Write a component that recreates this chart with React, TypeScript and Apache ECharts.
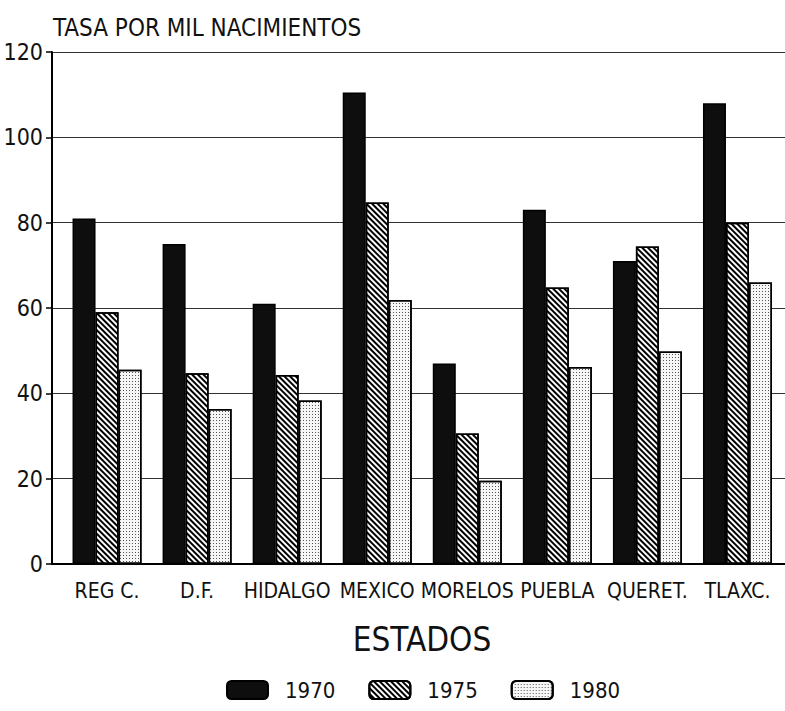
import React, { useEffect, useRef } from "react";
import * as echarts from "echarts";

const categories = ["REG C.", "D.F.", "HIDALGO", "MEXICO", "MORELOS", "PUEBLA", "QUERET.", "TLAXC."];
const years = ["1970", "1975", "1980"];
const values1970 = [81, 75, 61, 110.5, 47, 83, 71, 108];
const values1975 = [59, 44.7, 44.3, 84.7, 30.6, 64.8, 74.4, 80];
const values1980 = [45.5, 36.3, 38.3, 61.9, 19.5, 46.2, 49.8, 66];
const yTicks = [0, 20, 40, 60, 80, 100, 120];

const FONT = "'Liberation Sans Narrow', 'DejaVu Sans Condensed', 'Liberation Sans', sans-serif";

export default function App() {
  const ref = useRef<HTMLDivElement>(null);
  useEffect(() => {
    if (!ref.current) return;
    const chart = echarts.init(ref.current, null, { renderer: "svg" });
    const border = { borderColor: "#000", borderWidth: 1.5 };
    chart.setOption({
      animation: false,
      backgroundColor: "#fff",
      textStyle: { fontFamily: FONT, color: "#111" },
      title: {
        text: "TASA POR MIL NACIMIENTOS",
        left: 48,
        top: 11,
        textStyle: { fontFamily: FONT, fontSize: 24, fontWeight: "normal", color: "#111" },
      },
      legend: {
        bottom: 5,
        left: 221,
        itemWidth: 41,
        itemHeight: 18,
        itemGap: 33,
        data: years,
        textStyle: { fontFamily: FONT, fontSize: 22, color: "#111", padding: [0, 0, 0, 12] },
      },
      graphic: [
        {
          type: "text",
          x: 422,
          y: 639,
          style: {
            text: "ESTADOS",
            fontFamily: FONT,
            fontSize: 33,
            fill: "#111",
            align: "center",
            verticalAlign: "middle",
          },
        },
      ],
      grid: [
        { left: 52, right: 0, top: 52, bottom: 147 },
        { left: 62, right: 2.5, top: 52, bottom: 147 },
      ],
      xAxis: [
        {
          type: "value",
          gridIndex: 0,
          min: 0,
          max: 1,
          axisLine: { show: true, onZero: false, lineStyle: { color: "#000", width: 2 } },
          axisTick: { show: false },
          axisLabel: { show: false },
          splitLine: { show: false },
        },
        {
          type: "category",
          gridIndex: 1,
          data: categories,
          axisLine: { show: false },
          axisTick: { show: false },
          axisLabel: { fontFamily: FONT, fontSize: 21, color: "#111", margin: 16, interval: 0 },
        },
      ],
      yAxis: [
        {
          type: "value",
          gridIndex: 0,
          min: yTicks[0],
          max: yTicks[yTicks.length - 1],
          interval: 20,
          axisLine: { show: true, lineStyle: { color: "#000", width: 2 } },
          axisTick: { show: true, length: 6, lineStyle: { color: "#000", width: 1.5 } },
          axisLabel: { fontFamily: FONT, fontSize: 23, color: "#111", margin: 9 },
          splitLine: { show: true, lineStyle: { color: "#333", width: 1 } },
        },
        {
          type: "value",
          gridIndex: 1,
          min: 0,
          max: 120,
          interval: 20,
          show: false,
          splitLine: { show: false },
        },
      ],
      series: [
        {
          name: "1970",
          type: "bar",
          xAxisIndex: 1,
          yAxisIndex: 1,
          data: values1970,
          barWidth: 23,
          barGap: "0%",
          itemStyle: { color: "#0e0e0e", ...border },
        },
        {
          name: "1975",
          type: "bar",
          xAxisIndex: 1,
          yAxisIndex: 1,
          data: values1975,
          barWidth: 23,
          barGap: "0%",
          itemStyle: {
            color: "#ffffff",
            ...border,
            decal: {
              symbol: "rect",
              symbolSize: 1,
              color: "#000",
              dashArrayX: [1, 0],
              dashArrayY: [1.6, 1.6],
              rotation: Math.PI / 4,
            },
          },
        },
        {
          name: "1980",
          type: "bar",
          xAxisIndex: 1,
          yAxisIndex: 1,
          data: values1980,
          barWidth: 23,
          barGap: "0%",
          itemStyle: {
            color: "#f6f6f6",
            ...border,
            decal: {
              symbol: "rect",
              symbolSize: 1,
              color: "#555",
              dashArrayX: [1, 2],
              dashArrayY: [1, 2],
              rotation: 0,
            },
          },
        },
      ],
    });
    return () => chart.dispose();
  }, []);
  return <div ref={ref} style={{ width: 785, height: 711, position: "absolute", left: 0, top: 0 }} />;
}
